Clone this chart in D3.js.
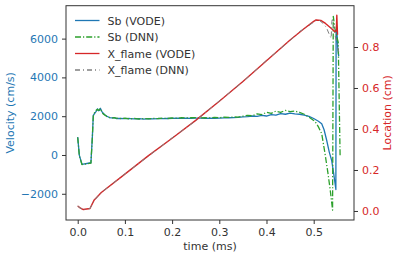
<!DOCTYPE html>
<html><head><meta charset="utf-8">
<script src="https://cdn.jsdelivr.net/npm/d3@7"></script>
<style>body{margin:0;background:#fff;} text{font-family:"DejaVu Sans",sans-serif;}</style>
</head><body>
<svg id="c" width="399" height="259"></svg>
<script>
const xTicks = [0.0, 0.1, 0.2, 0.3, 0.4, 0.5];
const vTicks = [-2000, 0, 2000, 4000, 6000];
const locTicks = [0.0, 0.2, 0.4, 0.6, 0.8];
const seriesNames = ["Sb (VODE)", "Sb (DNN)", "X_flame (VODE)", "X_flame (DNN)"];

const sbVode = [[0.000,930],[0.0035,-20],[0.009,-480],[0.028,-400],[0.031,900],[0.033,2040],[0.036,2150],[0.039,2250],[0.042,2380],[0.044,2280],[0.046,2300],[0.048,2410],[0.051,2250],[0.054,2150],[0.058,2060],[0.062,2000],[0.067,1930],[0.072,1910],[0.077,1920],[0.082,1880],[0.09,1890],[0.1,1870],[0.11,1880],[0.12,1860],[0.13,1870],[0.14,1850],[0.15,1870],[0.16,1860],[0.17,1880],[0.18,1870],[0.19,1880],[0.2,1890],[0.21,1900],[0.22,1890],[0.23,1900],[0.24,1890],[0.25,1900],[0.26,1900],[0.27,1890],[0.28,1900],[0.29,1890],[0.3,1900],[0.31,1910],[0.32,1920],[0.33,1930],[0.34,1940],[0.35,1960],[0.36,1980],[0.37,2010],[0.38,1990],[0.39,2040],[0.4,2010],[0.41,2080],[0.42,2050],[0.43,2130],[0.44,2100],[0.45,2160],[0.46,2120],[0.47,2100],[0.48,2050],[0.49,1990],[0.5,1880],[0.51,1740],[0.517,1610],[0.522,1300],[0.5275,760],[0.533,150],[0.538,-270],[0.542,-900],[0.547,-1780],[0.5475,6400],[0.549,6500],[0.551,5500],[0.553,5100]];
const sbDnn = [[0,900],[0.0035,-40],[0.009,-490],[0.028,-420],[0.031,900],[0.033,2000],[0.036,2200],[0.039,2300],[0.042,2350],[0.044,2300],[0.046,2330],[0.048,2400],[0.051,2230],[0.054,2120],[0.058,2050],[0.062,1980],[0.067,1940],[0.072,1900],[0.077,1930],[0.082,1900],[0.09,1880],[0.1,1900],[0.11,1860],[0.12,1890],[0.13,1850],[0.14,1880],[0.15,1860],[0.16,1890],[0.17,1870],[0.18,1900],[0.19,1880],[0.2,1910],[0.21,1890],[0.22,1920],[0.23,1910],[0.24,1920],[0.25,1930],[0.26,1910],[0.27,1920],[0.28,1910],[0.29,1940],[0.3,1920],[0.31,1950],[0.32,1940],[0.33,1960],[0.34,1950],[0.35,2000],[0.36,2040],[0.37,2020],[0.38,2120],[0.39,2080],[0.4,2200],[0.41,2150],[0.42,2260],[0.43,2200],[0.44,2300],[0.45,2240],[0.46,2260],[0.47,2200],[0.48,2100],[0.49,1950],[0.5,1780],[0.505,1650],[0.51,1450],[0.517,1100],[0.524,70],[0.53,-900],[0.535,-1800],[0.54,-2840],[0.5415,7150],[0.545,6500],[0.552,5800],[0.556,-100]];
const locVode = [[0,0.024],[0.005,0.015],[0.012,0.007],[0.026,0.012],[0.035,0.054],[0.046,0.08],[0.05,0.09],[0.1,0.18],[0.15,0.27],[0.2,0.355],[0.25,0.442],[0.3,0.535],[0.35,0.632],[0.4,0.733],[0.45,0.834],[0.48,0.89],[0.5,0.925],[0.505,0.932],[0.515,0.93],[0.525,0.915],[0.535,0.895],[0.545,0.875],[0.548,0.88],[0.549,0.955],[0.5505,0.86]];
const locDnn = [[0,0.024],[0.005,0.015],[0.012,0.006],[0.026,0.012],[0.035,0.052],[0.046,0.08],[0.05,0.09],[0.1,0.181],[0.15,0.268],[0.2,0.357],[0.25,0.44],[0.3,0.537],[0.35,0.63],[0.4,0.735],[0.45,0.832],[0.47,0.875],[0.49,0.905],[0.5,0.922],[0.505,0.93],[0.512,0.93],[0.52,0.915],[0.527,0.895],[0.532,0.867],[0.537,0.842],[0.5385,0.925],[0.54,0.94],[0.545,0.86],[0.553,0.777]];

const C = {blue:"#1f77b4", green:"#2ca02c", red:"#d62728", gray:"#7f7f7f", ink:"#333333"};
const L = 66, R = 354, T = 5.7, B = 220;
const svg = d3.select("#c");
const x = d3.scaleLinear().domain([-0.0248, 0.5854]).range([L, R]);
const yV = d3.scaleLinear().domain([-3352, 7697]).range([B, T]);
const yL = d3.scaleLinear().domain([-0.044, 1.0015]).range([B, T]);

svg.append("clipPath").attr("id","pc").append("rect").attr("x",L).attr("y",T).attr("width",R-L).attr("height",B-T);
const g = svg.append("g").attr("clip-path","url(#pc)");
const dd = "6,2,1.2,2";
function draw(data, ys, color, dash, w){
  g.append("path").datum(data).attr("fill","none").attr("stroke",color).attr("stroke-width",w || 1.3)
   .attr("stroke-dasharray", dash || null).attr("stroke-linejoin","round")
   .attr("d", d3.line().x(d=>x(d[0])).y(d=>ys(d[1])));
}
draw(sbVode, yV, C.blue);
draw(sbDnn, yV, C.green, dd);
draw(locVode, yL, C.red, null, 1.4);
draw(locDnn, yL, C.gray, "5,3,1,3", 1.0);

svg.append("rect").attr("x",L).attr("y",T).attr("width",R-L).attr("height",B-T).attr("fill","none").attr("stroke",C.ink).attr("stroke-width",1);

function style(ax, col){
  ax.select(".domain").remove();
  ax.selectAll("line").attr("stroke",C.ink);
  ax.selectAll("text").attr("fill",col).style("font-size","11px").style("font-family","DejaVu Sans");
}
const ax = svg.append("g").attr("transform",`translate(0,${B})`).call(d3.axisBottom(x).tickValues(xTicks).tickFormat(d3.format(".1f")).tickSize(4).tickPadding(4));
style(ax, C.ink);
const ayl = svg.append("g").attr("transform",`translate(${L},0)`).call(d3.axisLeft(yV).tickValues(vTicks).tickFormat(d=> d<0 ? "\u2212"+Math.abs(d) : d).tickSize(4).tickPadding(4));
style(ayl, C.blue);
const ayr = svg.append("g").attr("transform",`translate(${R},0)`).call(d3.axisRight(yL).tickValues(locTicks).tickFormat(d3.format(".1f")).tickSize(4).tickPadding(4));
style(ayr, C.red);

svg.append("text").attr("x",(L+R)/2).attr("y",250).attr("text-anchor","middle").attr("fill",C.ink).style("font-size","11px").text("time (ms)");
svg.append("text").attr("transform",`translate(14,${(T+B)/2}) rotate(-90)`).attr("text-anchor","middle").attr("fill",C.blue).style("font-size","11px").text("Velocity (cm/s)");
svg.append("text").attr("transform",`translate(391,${(T+B)/2}) rotate(-90)`).attr("text-anchor","middle").attr("fill",C.red).style("font-size","11px").text("Location (cm)");

const legCols = [C.blue, C.green, C.red, C.gray];
const legDash = [null, dd, null, "5,3,1,3"];
seriesNames.forEach((n,i)=>{
  const yy = 20.5 + i*16.5;
  svg.append("line").attr("x1",75).attr("x2",99.5).attr("y1",yy).attr("y2",yy).attr("stroke",legCols[i]).attr("stroke-width",1.3).attr("stroke-dasharray",legDash[i]);
  svg.append("text").attr("x",107.5).attr("y",yy+4).attr("fill",C.ink).style("font-size","11px").text(n);
});
</script>
</body></html>
